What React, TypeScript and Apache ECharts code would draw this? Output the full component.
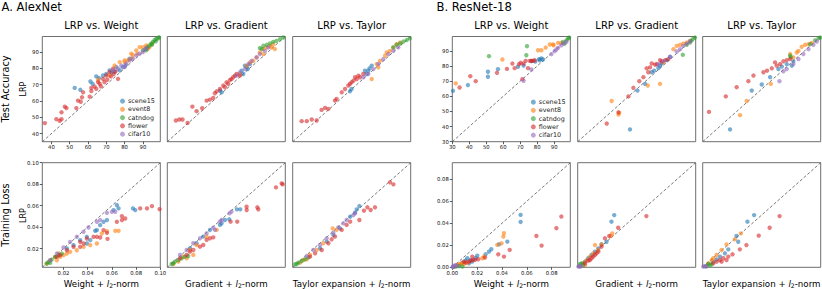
import React, { useEffect, useRef } from "react";
import * as echarts from "echarts";

type Pt = [number, number];

// dataset order: scene15, event8, catndog, flower, cifar10
const DATASETS = ["scene15", "event8", "catndog", "flower", "cifar10"];
const COLORS = ["#1f77b4", "#ff7f0e", "#2ca02c", "#d62728", "#9467bd"];

const A_ACC_RANGE = [35, 99.5];
const A_LOSS_RANGE = [0.0025, 0.1];
const B_ACC_RANGE = [30, 99.5];
const B_LOSS_RANGE = [0, 0.095];

const A_ACC_TICKS = [40, 50, 60, 70, 80, 90];
const A_LOSS_TICKS = [0.02, 0.04, 0.06, 0.08, 0.1];
const B_ACC_TICKS = [30, 40, 50, 60, 70, 80, 90];
const B_LOSS_TICKS = [0, 0.02, 0.04, 0.06, 0.08];

const COL_TITLES = ["LRP vs. Weight", "LRP vs. Gradient", "LRP vs. Taylor"];
const X_LABELS = ["Weight", "Gradient", "Taylor expansion"];
const ROW_LABELS = ["Test Accuracy", "Training Loss"];
const NET_TITLES = ["A. AlexNet", "B. ResNet-18"];

// ---------- AlexNet, test accuracy ----------
const A_ACC_WEIGHT: Pt[][] = [
  [[52.7, 68], [55.8, 66.8], [61.3, 71.9], [62.5, 70.5], [64.5, 75], [66, 74], [68.2, 75.6], [70, 76.5], [71.8, 78.7], [73, 77.5], [74.5, 78], [75.5, 80.7], [77.3, 78.7], [79, 80.7], [80.5, 82], [82.7, 85.9]],
  [[65.5, 73], [71.8, 75.6], [74.5, 81.7], [77.3, 83.8], [80, 84.9], [81.8, 84.9], [80, 83.8], [83.6, 85.9], [83.6, 89], [84.5, 88], [86.4, 91], [87, 89], [88.2, 93], [90, 93], [91.8, 94], [92.7, 92], [93.6, 93], [95, 95]],
  [[90, 91], [91.8, 92], [91.8, 91], [92.5, 93], [93.6, 94], [94.5, 95.1], [95, 94.5], [95.5, 96.2], [96.4, 97.2], [97, 96.5], [97.3, 98.2], [98.2, 98.2], [98.8, 99]],
  [[36.4, 46.4], [42.7, 48.8], [44.5, 47.8], [45.5, 48.8], [45.5, 53], [47.3, 56.5], [48.2, 55.6], [53.6, 55.6], [54.5, 60.2], [56, 59.5], [56.7, 62.2], [57.3, 65.3], [60.9, 62.6], [61.8, 66], [61.8, 68], [63.6, 68.8], [64.5, 67.4], [65.5, 71.5], [66.4, 70.5], [67, 69], [68.2, 73.5], [69, 71.5], [70, 75.6], [70.5, 73], [71.8, 77.7], [72.5, 75], [73.6, 79.7], [74, 76.5], [76.4, 73.5], [75, 78]],
  [[73.6, 78.7], [76.4, 79.7], [78.2, 81.7], [80, 80.7], [80.9, 82.8], [82.7, 84.9], [84.5, 85.9], [86.4, 87.9], [88.2, 89], [90, 90], [91, 91.5], [92, 92.5]],
];

const A_ACC_GRAD: Pt[][] = [
  [[63.8, 66.3], [64.7, 65.3], [75.6, 78.5], [77.4, 81.6], [78.4, 80.6], [80.2, 82.6], [76.5, 76.5], [79, 79.5]],
  [[74.7, 76.5], [78.4, 81.6], [80.2, 83.6], [82, 84.6], [83.8, 86.7], [85.6, 89.7], [87.5, 91.8], [89.3, 92.8], [91.1, 93.8], [92.9, 94.8], [93.8, 91.8], [87.5, 88.7], [92, 92.8]],
  [[85.6, 92.4], [87.5, 93.8], [89.3, 94.4], [91.1, 95.2], [92.9, 96.2], [94.7, 96.8], [96.6, 97.9], [98.4, 98.9], [86.6, 91.8]],
  [[39.7, 48], [41.6, 48.6], [43.3, 48.6], [46.1, 46.5], [48.7, 56.5], [51, 53.7], [54.1, 55.5], [56.5, 60.2], [58.3, 60.8], [60.1, 61.8], [61, 64.7], [62, 65.9], [63.8, 67.3], [65.6, 69.4], [67.4, 71.4], [69.2, 72.8], [71, 74.5], [72.9, 76.5], [74.7, 75.5], [68.3, 70.4], [66.5, 68.4], [70.1, 73.4], [72, 75.5]],
  [[72.9, 75.5], [74.7, 77.5], [77.4, 79.5], [79.3, 82.6], [81.1, 84.6], [83.8, 86.7], [85.6, 88.7], [88.4, 90.7], [90.2, 92.8]],
];

const A_ACC_TAYLOR: Pt[][] = [
  [[66.3, 65.9], [67.2, 67.3], [74.5, 78.5], [76.3, 78.5], [78.2, 81.6], [75.4, 76.5], [77, 80]],
  [[78.2, 73.4], [81.8, 80.6], [82.7, 84.6], [85.5, 87.7], [88.2, 90.7], [90, 92.8], [91.8, 94.8], [93.7, 95.8], [86.4, 89.7], [80.9, 82.6]],
  [[90, 92.8], [91.8, 94.4], [93.7, 95.2], [95.5, 96.4], [97.3, 97.3], [99, 98.3]],
  [[39.9, 47.6], [42.7, 47.6], [45.4, 48.6], [48.1, 48], [50.8, 54.5], [52.7, 55.7], [54.5, 55.1], [58.1, 60.2], [59, 61.2], [61.8, 65.3], [63.6, 67.3], [66.3, 70.4], [68.2, 72.4], [70, 73.4], [71.8, 74.5], [73.6, 76.5], [67.2, 71.4], [65.4, 69.4], [70.9, 75.5], [69.1, 74.5]],
  [[73.6, 74.5], [76.3, 76.5], [79.1, 79.5], [81.8, 82.6], [84.5, 85.6], [87.3, 88.7], [90, 90.7], [92.7, 92.8]],
];

// ---------- AlexNet, training loss ----------
const A_LOSS_WEIGHT: Pt[][] = [
  [[0.0228, 0.02], [0.0283, 0.0231], [0.0338, 0.0278], [0.0393, 0.0309], [0.0462, 0.0365], [0.0503, 0.0418], [0.0531, 0.0449], [0.0559, 0.0465], [0.0614, 0.0558], [0.0641, 0.0605], [0.0655, 0.0574], [0.0774, 0.0574], [0.0793, 0.0558], [0.0393, 0.0247], [0.0476, 0.0371], [0.0421, 0.0278]],
  [[0.0062, 0.006], [0.009, 0.009], [0.0131, 0.0122], [0.0145, 0.009], [0.02, 0.0138], [0.0228, 0.0153], [0.0255, 0.0169], [0.031, 0.0184], [0.0366, 0.0216], [0.0421, 0.0231], [0.0476, 0.0247], [0.0517, 0.034], [0.0559, 0.0362], [0.0628, 0.0365], [0.0655, 0.0365], [0.0159, 0.0153], [0.0172, 0.0122]],
  [[0.0062, 0.006], [0.0076, 0.0075], [0.0103, 0.0097], [0.0131, 0.0122], [0.0159, 0.0138], [0.0186, 0.0153], [0.009, 0.0066]],
  [[0.0228, 0.0184], [0.0283, 0.0216], [0.0338, 0.0262], [0.0393, 0.0293], [0.0448, 0.0309], [0.0476, 0.0309], [0.0531, 0.0371], [0.0559, 0.0346], [0.0564, 0.029], [0.0641, 0.0449], [0.0683, 0.0465], [0.071, 0.048], [0.0683, 0.0502], [0.0834, 0.0574], [0.089, 0.0574], [0.0931, 0.0595], [0.0994, 0.0567], [0.0172, 0.0138], [0.0145, 0.0122], [0.0338, 0.0216], [0.0366, 0.0247], [0.0503, 0.0303]],
  [[0.009, 0.0091], [0.0145, 0.0153], [0.02, 0.021], [0.0255, 0.0262], [0.031, 0.0309], [0.0366, 0.0356], [0.0407, 0.0396], [0.0476, 0.0449], [0.0503, 0.0465], [0.0559, 0.0533], [0.06, 0.0542], [0.0628, 0.0542]],
];

const A_LOSS_GRAD: Pt[][] = [
  [[0.06, 0.0565], [0.0628, 0.0565], [0.0537, 0.0472], [0.0501, 0.0466], [0.0474, 0.0435], [0.0378, 0.0373], [0.0322, 0.0311], [0.0267, 0.0249], [0.0212, 0.0202], [0.046, 0.042]],
  [[0.0433, 0.0373], [0.035, 0.0311], [0.0267, 0.0233], [0.0212, 0.0186], [0.0157, 0.0124], [0.0116, 0.0078], [0.0075, 0.0056], [0.0185, 0.0109], [0.024, 0.014]],
  [[0.0061, 0.0056], [0.0088, 0.0078], [0.0116, 0.0093], [0.0143, 0.0109], [0.0171, 0.0124], [0.0198, 0.013], [0.0075, 0.0062]],
  [[0.0923, 0.077], [0.097, 0.0807], [0.0978, 0.0798], [0.068, 0.059], [0.0681, 0.0559], [0.0769, 0.0584], [0.0777, 0.0565], [0.0603, 0.045], [0.0548, 0.045], [0.0378, 0.0295], [0.035, 0.028], [0.0295, 0.0217], [0.024, 0.0186], [0.0185, 0.014], [0.013, 0.0109], [0.0405, 0.0304], [0.0322, 0.0233], [0.0212, 0.0171]],
  [[0.054, 0.0528], [0.0556, 0.0544], [0.0474, 0.0466], [0.046, 0.045], [0.0405, 0.0394], [0.035, 0.0342], [0.0295, 0.0295], [0.024, 0.0249], [0.0185, 0.0186], [0.013, 0.014], [0.0419, 0.0373]],
];

const A_LOSS_TAYLOR: Pt[][] = [
  [[0.0576, 0.0596], [0.0554, 0.0565], [0.054, 0.0534], [0.05, 0.0497], [0.0416, 0.0388], [0.0361, 0.0326], [0.0306, 0.0264], [0.0251, 0.0202]],
  [[0.0355, 0.0388], [0.0388, 0.0373], [0.0278, 0.0249], [0.0223, 0.0186], [0.0168, 0.014], [0.0113, 0.0093], [0.0086, 0.0068], [0.0141, 0.0099]],
  [[0.0044, 0.0053], [0.0072, 0.0068], [0.0099, 0.0084], [0.0127, 0.0099], [0.0154, 0.0118], [0.0058, 0.0056]],
  [[0.0829, 0.0817], [0.0857, 0.0798], [0.0705, 0.0584], [0.0669, 0.0559], [0.0642, 0.0584], [0.0614, 0.0553], [0.0576, 0.0466], [0.05, 0.045], [0.043, 0.0373], [0.0375, 0.0311], [0.032, 0.0249], [0.0265, 0.0186], [0.021, 0.0155], [0.0168, 0.0124], [0.0471, 0.042], [0.0347, 0.0286]],
  [[0.054, 0.0528], [0.0526, 0.0512], [0.0444, 0.0435], [0.0402, 0.0398], [0.0361, 0.0348], [0.0306, 0.0295], [0.0251, 0.0233], [0.0196, 0.0186], [0.0141, 0.013], [0.0471, 0.0466]],
];

// ---------- ResNet-18, test accuracy ----------
const B_ACC_WEIGHT: Pt[][] = [
  [[30.4, 63.6], [39.2, 67.4], [51, 72.9], [51, 76.2], [56.9, 77.9], [68.7, 79.5], [72, 80.3], [76.6, 83.2], [81.1, 84.5], [82.5, 85], [83.4, 84.3], [81.5, 83.8], [78.9, 83]],
  [[32, 68.5], [59.5, 84.3], [80.5, 90.4], [82.5, 90.4], [85, 92.2], [87.4, 94.2], [89.3, 94.2], [92.3, 95.3], [94.2, 95.3], [89.7, 93.7]],
  [[51.6, 86.5], [74, 93.1], [73.6, 87.1], [95.2, 95.9], [97.2, 97], [98.2, 98.1], [98.8, 98.8], [96.2, 94.8]],
  [[34.3, 65.8], [40.6, 73.3], [43.8, 70], [56.3, 75.5], [62.2, 78.1], [66.7, 78.6], [65.4, 81.6], [69.3, 81.2], [70.3, 82.1], [72, 81.6], [71.3, 71.3], [73.2, 83.4], [74.6, 78.6], [76.6, 83.4], [77.5, 83.4], [78.5, 83.8], [75.6, 83.4]],
  [[72, 70.2], [76.6, 77.7], [88.4, 87.8], [90.3, 89.8], [92.3, 92], [94.2, 93.7], [95.6, 94.8], [97.2, 95.9], [91.3, 90.9]],
];

const B_ACC_GRAD: Pt[][] = [
  [[60.8, 38.1], [65.2, 63.8], [69.7, 68.2], [73.6, 75.9], [75, 76.9], [77.5, 78.7], [78.5, 80.2], [79.5, 81.7], [82.5, 83.9], [84.4, 86.1]],
  [[50, 56.9], [54, 47.9], [54.4, 49], [71.3, 67.1], [78.5, 68.2], [80.4, 82.4], [88.3, 93.3], [90.3, 94], [92.2, 94.8], [94.2, 95.5], [96.1, 96.6], [86.4, 91.1]],
  [[91.9, 87.4], [94.2, 94], [96.1, 95.5], [97.7, 97.7], [99.1, 98.8], [96.8, 96.6]],
  [[47.1, 42], [54, 49.4], [59.9, 59.9], [62.8, 65.6], [66.3, 70], [68.7, 72.6], [71.6, 75.9], [72.6, 79.1], [75.6, 80.9], [76.6, 81.3], [79.5, 83.1], [81.5, 83.9], [83.4, 84.6], [73.6, 81.7], [78.5, 83.9], [70.6, 78.5]],
  [[77.5, 81.3], [80.4, 83.1], [84.4, 86.1], [88.3, 89.6], [90.3, 91.1], [92.2, 93.3], [94.2, 94.8], [96.1, 96.2]],
];

const B_ACC_TAYLOR: Pt[][] = [
  [[46.1, 38.1], [58.9, 63.8], [64.8, 67.8], [69.7, 72.6], [74.6, 78], [76.6, 79.6], [79.5, 81.3], [82.5, 80.2], [83.4, 83.1]],
  [[52, 47.5], [55.9, 56.9], [70.1, 68.2], [83.4, 85.7], [86.4, 90], [88.3, 92.7], [90.3, 94], [92.3, 94.4], [94.2, 95.3], [85.4, 88.9], [81.5, 87.9]],
  [[81.5, 86.8], [81.9, 85.7], [96.2, 97], [98.2, 98.3], [99.2, 98.8], [93.3, 94.4]],
  [[33.7, 49.7], [43.6, 59.9], [50, 66], [56.9, 70], [59.9, 73.7], [65.8, 75.9], [70.7, 78.5], [73.6, 80.2], [75.6, 81.3], [77.5, 83.1], [79.5, 83.9], [81.5, 84.6], [67.9, 76.9], [72.6, 82.4]],
  [[75.2, 70], [77.5, 76.5], [79.5, 78], [83.4, 81.3], [86.4, 84.6], [89.3, 87.9], [92.3, 91.1], [95.2, 94], [97.2, 96.2]],
];

// ---------- ResNet-18, training loss ----------
const B_LOSS_WEIGHT: Pt[][] = [
  [[0.055, 0.0476], [0.055, 0.0412], [0.0443, 0.0233], [0.0376, 0.0209], [0.0314, 0.0164], [0.0295, 0.0142], [0.0268, 0.0118], [0.0201, 0.0106], [0.0188, 0.0082], [0.0148, 0.0067], [0.0121, 0.0082], [0.0107, 0.0061], [0.0081, 0.0042], [0.0134, 0.0036], [0.0161, 0.0052]],
  [[0.0416, 0.0309], [0.0411, 0.0279], [0.0397, 0.0218], [0.0362, 0.0203], [0.0255, 0.0097], [0.0242, 0.0082], [0.0081, 0.0036], [0.0054, 0.0027], [0.0067, 0.003], [0.004, 0.0021], [0.0094, 0.003], [0.0121, 0.0042]],
  [[0.0081, 0.0006], [0.0054, 0.0012], [0.0027, 0.0006], [0.0013, 0.0003]],
  [[0.0878, 0.0461], [0.0838, 0.0355], [0.0677, 0.0285], [0.0719, 0.0197], [0.0462, 0.0158], [0.037, 0.0118], [0.0416, 0.0097], [0.0263, 0.0088], [0.0209, 0.0073], [0.0161, 0.0097], [0.0166, 0.0067], [0.0148, 0.0058], [0.0134, 0.0052], [0.0107, 0.0042], [0.0094, 0.0052], [0.0183, 0.0067]],
  [[0.0003, 0.0002], [0.0013, 0.0012], [0.0027, 0.0021], [0.004, 0.0012], [0.0005, 0.0006]],
];

const B_LOSS_GRAD: Pt[][] = [
  [[0.0294, 0.0474], [0.0272, 0.0414], [0.0232, 0.0232], [0.0192, 0.0208], [0.0166, 0.0172], [0.0139, 0.0142], [0.0112, 0.0112], [0.0085, 0.0082], [0.0059, 0.0051]],
  [[0.0278, 0.0308], [0.0267, 0.0284], [0.0192, 0.0208], [0.0139, 0.0202], [0.0166, 0.0157], [0.0125, 0.0127], [0.0099, 0.0097], [0.0072, 0.0066], [0.0045, 0.0036], [0.0059, 0.0021]],
  [[0.0019, 0.003], [0.0032, 0.0036], [0.0045, 0.0021], [0.0019, 0.0012]],
  [[0.0553, 0.0465], [0.0326, 0.0359], [0.0254, 0.0284], [0.0219, 0.0263], [0.0192, 0.0187], [0.0166, 0.0142], [0.0139, 0.0112], [0.0112, 0.0082], [0.0085, 0.006], [0.0059, 0.0036], [0.0152, 0.0127], [0.0125, 0.0097], [0.0099, 0.0066]],
  [[0.0019, 0.0006], [0.0005, 0.0006], [0.0027, 0.0012]],
];

const B_LOSS_TAYLOR: Pt[][] = [
  [[0.0414, 0.0474], [0.036, 0.0414], [0.0286, 0.0232], [0.0272, 0.0284], [0.0206, 0.0163], [0.0179, 0.0127], [0.0139, 0.0097], [0.0112, 0.0072], [0.0085, 0.0051]],
  [[0.0307, 0.0308], [0.0259, 0.0254], [0.0192, 0.0208], [0.0152, 0.0157], [0.0112, 0.0112], [0.0072, 0.0066], [0.0045, 0.0036], [0.0085, 0.0082]],
  [[0.0045, 0.003], [0.0059, 0.0021], [0.0032, 0.0012], [0.0072, 0.0027]],
  [[0.0619, 0.0465], [0.0539, 0.0359], [0.0451, 0.0287], [0.0352, 0.0202], [0.0299, 0.0163], [0.024, 0.0118], [0.0206, 0.0097], [0.0166, 0.0082], [0.0139, 0.0066], [0.0112, 0.0051], [0.0085, 0.0036], [0.0192, 0.0066], [0.0152, 0.0051]],
  [[0.0005, 0.0006], [0.0019, 0.0012], [0.0027, 0.0006]],
];

const FONT = "DejaVu Sans";
const COL_LEFT = [42.3, 167.3, 292.7, 452.3, 577.7, 702.7];
const ROW_TOP = [36.5, 162.7];
const ROW_H = [105.2, 104.6];
const PANEL_W = 118;

interface Panel {
  data: Pt[][];
  col: number;
  row: number;
  range: number[];
  ticks: number[] | null;
  decimals: number;
}

const PANELS: Panel[] = [
  { data: A_ACC_WEIGHT, col: 0, row: 0, range: A_ACC_RANGE, ticks: A_ACC_TICKS, decimals: 0 },
  { data: A_ACC_GRAD, col: 1, row: 0, range: A_ACC_RANGE, ticks: null, decimals: 0 },
  { data: A_ACC_TAYLOR, col: 2, row: 0, range: A_ACC_RANGE, ticks: null, decimals: 0 },
  { data: A_LOSS_WEIGHT, col: 0, row: 1, range: A_LOSS_RANGE, ticks: A_LOSS_TICKS, decimals: 2 },
  { data: A_LOSS_GRAD, col: 1, row: 1, range: A_LOSS_RANGE, ticks: null, decimals: 2 },
  { data: A_LOSS_TAYLOR, col: 2, row: 1, range: A_LOSS_RANGE, ticks: null, decimals: 2 },
  { data: B_ACC_WEIGHT, col: 3, row: 0, range: B_ACC_RANGE, ticks: B_ACC_TICKS, decimals: 0 },
  { data: B_ACC_GRAD, col: 4, row: 0, range: B_ACC_RANGE, ticks: null, decimals: 0 },
  { data: B_ACC_TAYLOR, col: 5, row: 0, range: B_ACC_RANGE, ticks: null, decimals: 0 },
  { data: B_LOSS_WEIGHT, col: 3, row: 1, range: B_LOSS_RANGE, ticks: B_LOSS_TICKS, decimals: 2 },
  { data: B_LOSS_GRAD, col: 4, row: 1, range: B_LOSS_RANGE, ticks: null, decimals: 2 },
  { data: B_LOSS_TAYLOR, col: 5, row: 1, range: B_LOSS_RANGE, ticks: null, decimals: 2 },
];

function buildOption() {
  const grid: any[] = [];
  const xAxis: any[] = [];
  const yAxis: any[] = [];
  const series: any[] = [];

  PANELS.forEach((p, i) => {
    grid.push({
      left: COL_LEFT[p.col],
      top: ROW_TOP[p.row],
      width: PANEL_W,
      height: ROW_H[p.row],
      show: true,
      borderColor: "#6e6e6e",
      borderWidth: 1,
      backgroundColor: "#fff",
    });
    const labeled = !!p.ticks;
    const fmt = (v: number) => v.toFixed(p.decimals);
    const axisCommon = (isX: boolean) => ({
      type: "value",
      gridIndex: i,
      min: p.range[0],
      max: p.range[1],
      axisLine: { show: false },
      splitLine: { show: false },
      axisTick: labeled
        ? { show: true, customValues: p.ticks, length: 2.5, lineStyle: { color: "#333", width: 0.8 } }
        : { show: false },
      axisLabel: labeled
        ? {
            show: true,
            customValues: p.ticks,
            formatter: fmt,
            fontSize: 5.3,
            fontFamily: FONT,
            color: "#111",
            margin: isX ? 3.2 : 3.5,
          }
        : { show: false },
    });
    xAxis.push(axisCommon(true));
    yAxis.push(axisCommon(false));

    series.push({
      type: "line",
      name: "diag",
      xAxisIndex: i,
      yAxisIndex: i,
      data: [
        [p.range[0], p.range[0]],
        [p.range[1], p.range[1]],
      ],
      symbol: "none",
      silent: true,
      z: 1,
      lineStyle: { color: "#555", width: 0.8, type: [3, 2] },
    });
    p.data.forEach((pts, k) => {
      series.push({
        type: "scatter",
        name: DATASETS[k],
        xAxisIndex: i,
        yAxisIndex: i,
        data: pts,
        symbolSize: 4.4,
        z: 2 + k,
        itemStyle: { color: COLORS[k], opacity: 0.6 },
      });
    });
  });

  const graphic: any[] = [];
  const txt = (text: string, x: number, y: number, size: number, extra: any = {}) => ({
    type: "text",
    x,
    y,
    ...extra,
    style: {
      text,
      fontSize: size,
      fontFamily: FONT,
      fill: "#000",
      align: extra.align || "center",
      verticalAlign: "middle",
    },
  });
  graphic.push(txt(NET_TITLES[0], 1.5, 7, 11.6, { align: "left" }));
  graphic.push(txt(NET_TITLES[1], 436.5, 7, 11.6, { align: "left" }));
  for (let c = 0; c < 6; c++) {
    const cx = COL_LEFT[c] + PANEL_W / 2;
    graphic.push(txt(COL_TITLES[c % 3], cx, 25.5, 10));
    const xl = X_LABELS[c % 3];
    graphic.push({
      type: "text",
      x: cx,
      y: 283.5,
      style: {
        text: `{n|${xl} + }{i|l}{s|2}{n|-norm}`,
        align: "center",
        verticalAlign: "middle",
        fontFamily: FONT,
        fontSize: 8.7,
        fill: "#000",
        rich: {
          n: { fontSize: 8.7, fontFamily: FONT, fill: "#000" },
          i: { fontSize: 8.7, fontFamily: FONT, fontStyle: "italic", fill: "#000" },
          s: { fontSize: 6.1, fontFamily: FONT, fill: "#000", padding: [4, 0, 0, 0] },
        },
      },
    });
  }
  graphic.push(txt(ROW_LABELS[0], 5.5, 89, 9.8, { rotation: Math.PI / 2 }));
  graphic.push(txt(ROW_LABELS[1], 5.5, 215, 9.8, { rotation: Math.PI / 2 }));
  graphic.push(txt("LRP", 23.5, 89, 8, { rotation: Math.PI / 2 }));
  graphic.push(txt("LRP", 23.5, 215.5, 8, { rotation: Math.PI / 2 }));

  const legendCommon = {
    data: DATASETS,
    orient: "vertical",
    icon: "circle",
    itemWidth: 5,
    itemHeight: 5,
    itemGap: 0,
    padding: 0,
    selectedMode: false,
    textStyle: { fontSize: 6.4, lineHeight: 8.25, fontFamily: FONT, color: "#222", padding: [0, 0, 0, -2] },
  };

  return {
    animation: false,
    backgroundColor: "#fff",
    grid,
    xAxis,
    yAxis,
    series,
    graphic,
    legend: [
      { ...legendCommon, left: 120, top: 97 },
      { ...legendCommon, left: 530.8, top: 98 },
    ],
  };
}

export default function App() {
  const ref = useRef<HTMLDivElement>(null);
  useEffect(() => {
    if (!ref.current) return;
    const chart = echarts.init(ref.current, undefined, { renderer: "svg" });
    chart.setOption(buildOption() as any);
    return () => chart.dispose();
  }, []);
  return (
    <div
      ref={ref}
      style={{ position: "absolute", left: 0, top: 0, width: 822, height: 289, background: "#fff" }}
    />
  );
}
